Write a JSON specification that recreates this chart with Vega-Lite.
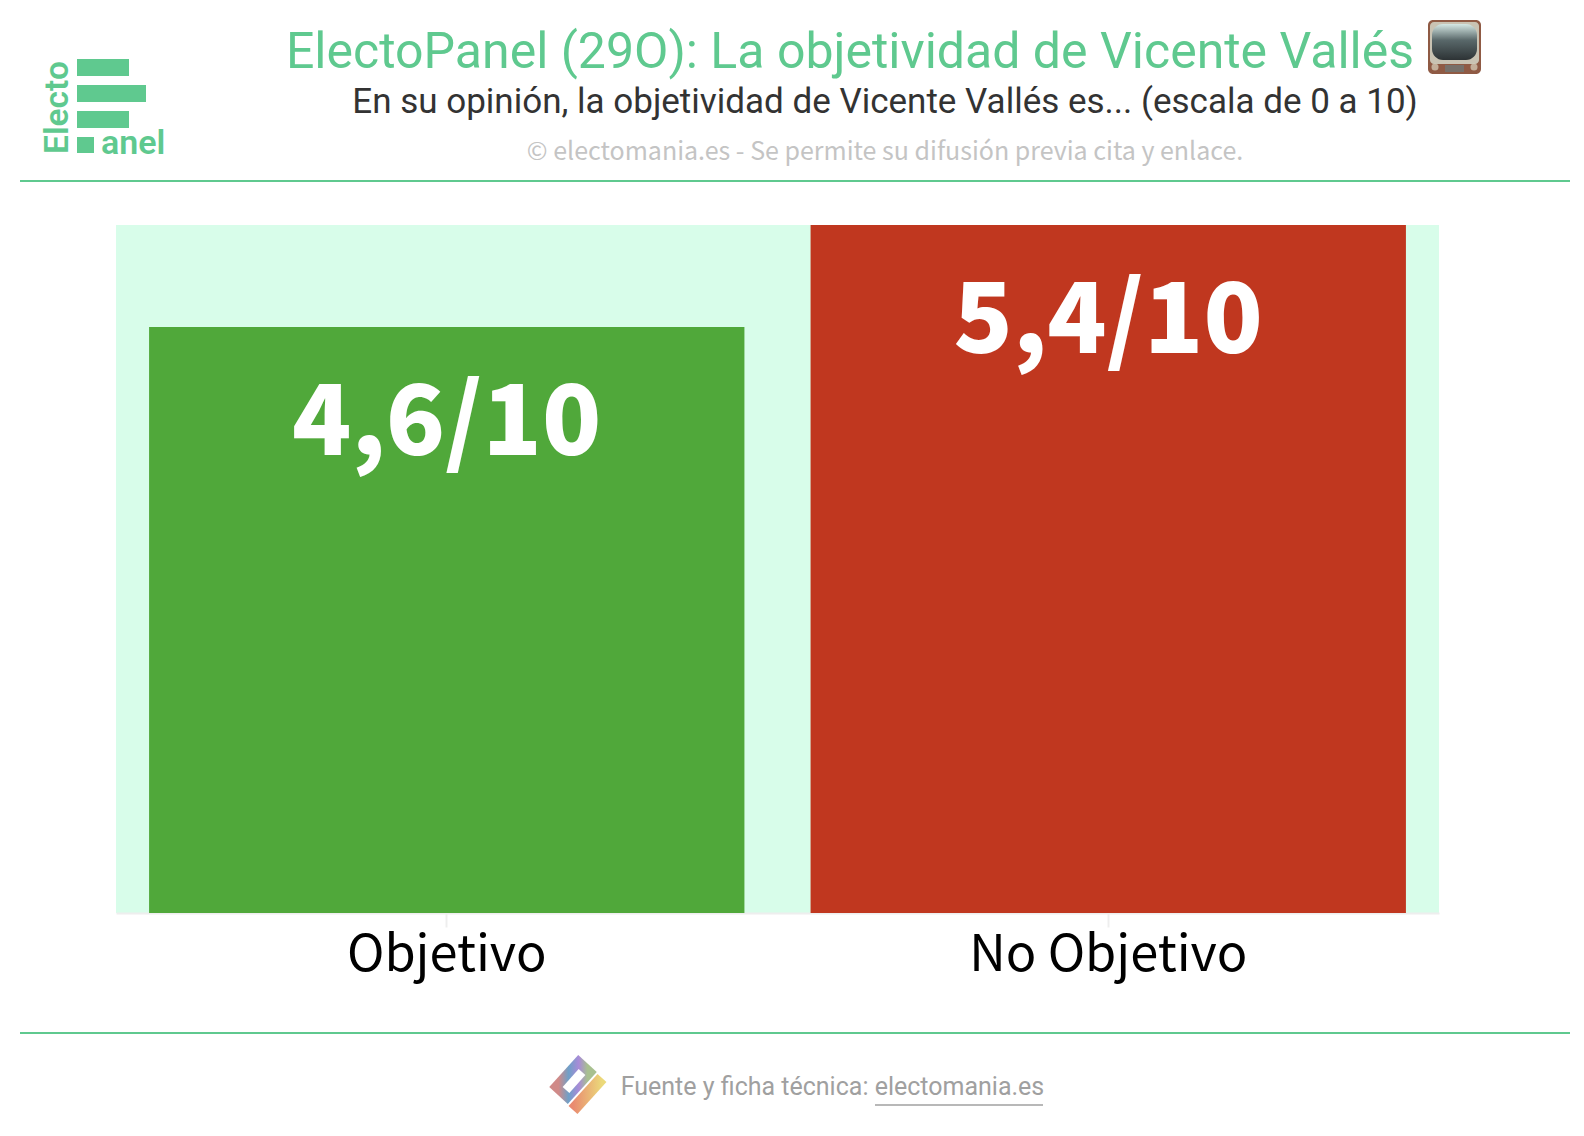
{
  "$schema": "https://vega.github.io/schema/vega-lite/v6.json",
  "width": 1323,
  "height": 688,
  "autosize": "none",
  "padding": {"left": 116, "top": 225, "right": 145, "bottom": 223},
  "background": "white",
  "view": {"fill": "#d8fdea", "stroke": null},
  "data": {
    "values": [
      {"opinion": "Objetivo", "nota": 4.6, "etiqueta": "4,6/10"},
      {"opinion": "No Objetivo", "nota": 5.4, "etiqueta": "5,4/10"}
    ]
  },
  "layer": [
    {
      "mark": {"type": "bar"},
      "encoding": {
        "x": {
          "field": "opinion",
          "type": "nominal",
          "sort": ["Objetivo", "No Objetivo"],
          "scale": {"paddingInner": 0.1, "paddingOuter": 0.05},
          "axis": {
            "title": "Fuente y ficha técnica: electomania.es",
            "titleFont": "Roboto",
            "titleFontSize": 25,
            "titleFontWeight": "normal",
            "titleColor": "#a0a0a0",
            "titleX": 716,
            "titleY": 161,
            "titleAnchor": "middle",
            "labelAngle": 0,
            "labelFont": "Noto Sans CJK SC",
            "labelFontSize": 50.5,
            "labelLimit": 0,
            "labelColor": "#000000",
            "labelPadding": 3,
            "domainColor": "#eeeeee",
            "domainWidth": 2,
            "tickColor": "#eeeeee",
            "tickWidth": 2,
            "tickSize": 14
          }
        },
        "y": {
          "field": "nota",
          "type": "quantitative",
          "scale": {"domain": [0, 5.4], "nice": false},
          "axis": null
        },
        "color": {
          "field": "opinion",
          "type": "nominal",
          "scale": {"domain": ["Objetivo", "No Objetivo"], "range": ["#50a83a", "#c0371f"]},
          "legend": null
        }
      }
    },
    {
      "mark": {"type": "text", "font": "Noto Sans CJK SC", "fontWeight": 900, "fontSize": 97.5, "color": "white", "baseline": "middle", "dy": 99},
      "encoding": {
        "x": {"field": "opinion", "type": "nominal", "sort": ["Objetivo", "No Objetivo"]},
        "y": {"field": "nota", "type": "quantitative", "scale": {"domain": [0, 5.4], "nice": false}},
        "text": {"field": "etiqueta", "type": "nominal"}
      }
    },
    {
      "data": {"values": [{"texto": "ElectoPanel (29O): La objetividad de Vicente Vallés"}]},
      "mark": {"type": "text", "font": "Roboto", "fontSize": 50, "color": "#5fc98f", "baseline": "alphabetic", "align": "center"},
      "encoding": {"x": {"value": 734}, "y": {"value": -157}, "text": {"field": "texto", "type": "nominal"}}
    },
    {
      "data": {"values": [{"texto": "En su opinión, la objetividad de Vicente Vallés es... (escala de 0 a 10)"}]},
      "mark": {"type": "text", "font": "Roboto", "fontSize": 35, "color": "#333333", "baseline": "alphabetic", "align": "center"},
      "encoding": {"x": {"value": 769}, "y": {"value": -112}, "text": {"field": "texto", "type": "nominal"}}
    },
    {
      "data": {"values": [{"texto": "© electomania.es - Se permite su difusión previa cita y enlace."}]},
      "mark": {"type": "text", "font": "Noto Sans CJK SC", "fontSize": 25, "color": "#c4c4c4", "baseline": "middle", "align": "center"},
      "encoding": {"x": {"value": 769}, "y": {"value": -73}, "text": {"field": "texto", "type": "nominal"}}
    },
    {
      "data": {"values": [{}]},
      "mark": {"type": "rule", "color": "#5fc98f", "strokeWidth": 2},
      "encoding": {"x": {"value": -96}, "x2": {"value": 1454}, "y": {"value": -44}}
    },
    {
      "data": {"values": [{}]},
      "mark": {"type": "rule", "color": "#5fc98f", "strokeWidth": 2},
      "encoding": {"x": {"value": -96}, "x2": {"value": 1454}, "y": {"value": 808}}
    },
    {
      "data": {"values": [{}]},
      "mark": {"type": "rect", "color": "#5fc98f"},
      "encoding": {"x": {"value": -39}, "x2": {"value": 13}, "y": {"value": -166}, "y2": {"value": -149}}
    },
    {
      "data": {"values": [{}]},
      "mark": {"type": "rect", "color": "#5fc98f"},
      "encoding": {"x": {"value": -39}, "x2": {"value": 30}, "y": {"value": -140}, "y2": {"value": -123}}
    },
    {
      "data": {"values": [{}]},
      "mark": {"type": "rect", "color": "#5fc98f"},
      "encoding": {"x": {"value": -39}, "x2": {"value": 13}, "y": {"value": -114}, "y2": {"value": -97}}
    },
    {
      "data": {"values": [{}]},
      "mark": {"type": "rect", "color": "#5fc98f"},
      "encoding": {"x": {"value": -39}, "x2": {"value": -22}, "y": {"value": -88}, "y2": {"value": -72}}
    },
    {
      "data": {"values": [{"texto": "anel"}]},
      "mark": {"type": "text", "font": "Roboto", "fontWeight": 600, "fontSize": 34, "color": "#5fc98f", "align": "left", "baseline": "alphabetic"},
      "encoding": {"x": {"value": -15}, "y": {"value": -71}, "text": {"field": "texto", "type": "nominal"}}
    },
    {
      "data": {"values": [{"texto": "Electo"}]},
      "mark": {"type": "text", "font": "Roboto", "fontWeight": 600, "fontSize": 33.5, "color": "#5fc98f", "align": "left", "baseline": "alphabetic", "angle": 270},
      "encoding": {"x": {"value": -48}, "y": {"value": -71}, "text": {"field": "texto", "type": "nominal"}}
    },
    {
      "data": {"values": [{}]},
      "mark": {"type": "rect", "color": "#8f5a44", "cornerRadius": 5},
      "encoding": {"x": {"value": 1312}, "x2": {"value": 1365}, "y": {"value": -205}, "y2": {"value": -151}}
    },
    {
      "data": {"values": [{}]},
      "mark": {"type": "rect", "color": "#c9c3b3", "cornerRadius": 4},
      "encoding": {"x": {"value": 1314}, "x2": {"value": 1363}, "y": {"value": -203}, "y2": {"value": -161}}
    },
    {
      "data": {"values": [{}]},
      "mark": {
        "type": "rect",
        "cornerRadius": 11,
        "color": {"gradient": "linear", "x1": 0, "y1": 0, "x2": 0, "y2": 1, "stops": [{"offset": 0, "color": "#d5e8e4"}, {"offset": 0.45, "color": "#59686a"}, {"offset": 1, "color": "#2d3335"}]}
      },
      "encoding": {"x": {"value": 1316}, "x2": {"value": 1361}, "y": {"value": -201}, "y2": {"value": -165}}
    },
    {
      "data": {"values": [{}]},
      "mark": {"type": "rect", "color": "#77706a"},
      "encoding": {"x": {"value": 1329}, "x2": {"value": 1348}, "y": {"value": -160}, "y2": {"value": -153}}
    },
    {
      "data": {"values": [{}]},
      "mark": {"type": "circle", "color": "#d8d3bf", "size": 50},
      "encoding": {"x": {"value": 1319}, "y": {"value": -158}}
    },
    {
      "data": {"values": [{}]},
      "mark": {"type": "circle", "color": "#d8d3bf", "size": 50},
      "encoding": {"x": {"value": 1358}, "y": {"value": -158}}
    },
    {
      "data": {"values": [{}]},
      "mark": {
        "type": "rule",
        "strokeWidth": 25,
        "stroke": {"gradient": "linear", "x1": 0, "y1": 0, "x2": 1, "y2": 0, "stops": [{"offset": 0, "color": "#d08a88"}, {"offset": 0.35, "color": "#6fa0c8"}, {"offset": 0.7, "color": "#a98bd8"}, {"offset": 1, "color": "#a8c090"}]}
      },
      "encoding": {"x": {"value": 471.5}, "x2": {"value": 442.5}, "y": {"value": 838.5}, "y2": {"value": 870.5}}
    },
    {
      "data": {"values": [{}]},
      "mark": {"type": "rule", "strokeWidth": 9, "color": "white"},
      "encoding": {"x": {"value": 466}, "x2": {"value": 450}, "y": {"value": 847}, "y2": {"value": 865}}
    },
    {
      "data": {"values": [{}]},
      "mark": {
        "type": "rule",
        "strokeWidth": 12,
        "stroke": {"gradient": "linear", "x1": 0, "y1": 0, "x2": 1, "y2": 0, "stops": [{"offset": 0, "color": "#e98a70"}, {"offset": 1, "color": "#ebd97a"}]}
      },
      "encoding": {"x": {"value": 457}, "x2": {"value": 486}, "y": {"value": 885}, "y2": {"value": 853}}
    },
    {
      "data": {"values": [{}]},
      "mark": {"type": "rule", "color": "#a0a0a0", "strokeWidth": 1.5},
      "encoding": {"x": {"value": 759}, "x2": {"value": 927}, "y": {"value": 880}}
    }
  ]
}
